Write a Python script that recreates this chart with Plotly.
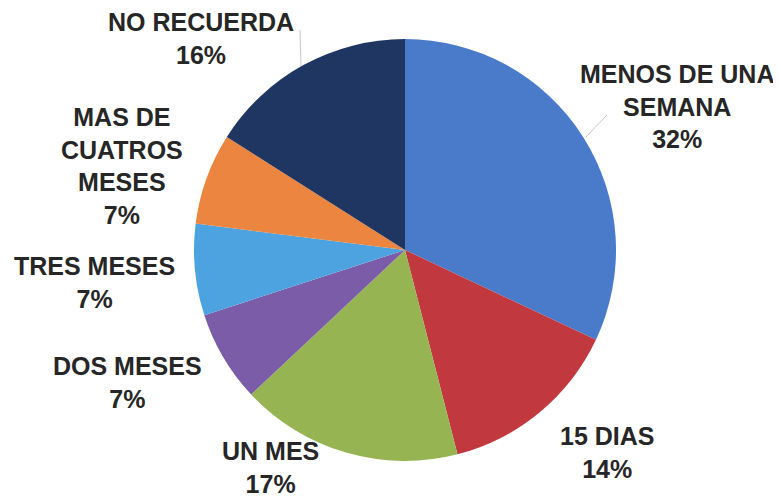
import plotly.graph_objects as go

W, H = 781, 496
OFF = 8  # page body margin shifts the figure by 8px

# data
labels = ["MENOS DE UNA SEMANA", "15 DIAS", "UN MES", "DOS MESES",
          "TRES MESES", "MAS DE CUATROS MESES", "NO RECUERDA"]
values = [32, 14, 17, 7, 7, 7, 16]
label_text = ["MENOS DE UNA<br>SEMANA", "15 DIAS", "UN MES", "DOS MESES",
              "TRES MESES", "MAS DE<br>CUATROS<br>MESES", "NO RECUERDA"]

colors = ["#4A7BCB", "#C1383F", "#96B552", "#7A5CA8",
          "#4DA3DF", "#EB853F", "#1E3661"]

# label centres in screen pixels (x, y of the first line)
label_pos = [(677, 76), (607, 437), (270, 452), (128, 367),
             (94, 267), (122, 120), (201, 23)]
line_h = 30.5


def px(x):
    return (x - OFF) / W


def py(y):
    return 1 - (y - OFF) / H


fig = go.Figure()
fig.add_trace(go.Pie(
    labels=labels,
    values=values,
    sort=False,
    direction="clockwise",
    rotation=0,
    marker=dict(colors=colors, line=dict(width=0)),
    textinfo="none",
    hoverinfo="label+percent",
    showlegend=False,
    domain=dict(x=[px(194), px(616)], y=[py(461), py(39)]),
))

total = sum(values)
for txt, v, (lx, ly) in zip(label_text, values, label_pos):
    n = txt.count("<br>") + 2
    full = f"{txt}<br>{round(100 * v / total)}%"
    cy = ly + (n - 1) * line_h / 2
    fig.add_annotation(
        x=px(lx), y=py(cy), xref="paper", yref="paper",
        text=full, showarrow=False, align="center",
        xanchor="center", yanchor="middle", borderpad=0,
        font=dict(family="Liberation Sans, Arial, sans-serif", size=25,
                  color="#262626", weight="bold"),
    )

# faint leader lines
fig.add_shape(type="line", xref="paper", yref="paper",
              x0=px(300), y0=py(30), x1=px(301), y1=py(66),
              line=dict(color="#C8C8C8", width=1))
fig.add_shape(type="line", xref="paper", yref="paper",
              x0=px(586), y0=py(137), x1=px(607), y1=py(115),
              line=dict(color="#C8C8C8", width=1))

fig.update_layout(
    width=W, height=H,
    margin=dict(l=0, r=0, t=0, b=0),
    paper_bgcolor="white",
    plot_bgcolor="white",
)

fig.write_html("out.html")
